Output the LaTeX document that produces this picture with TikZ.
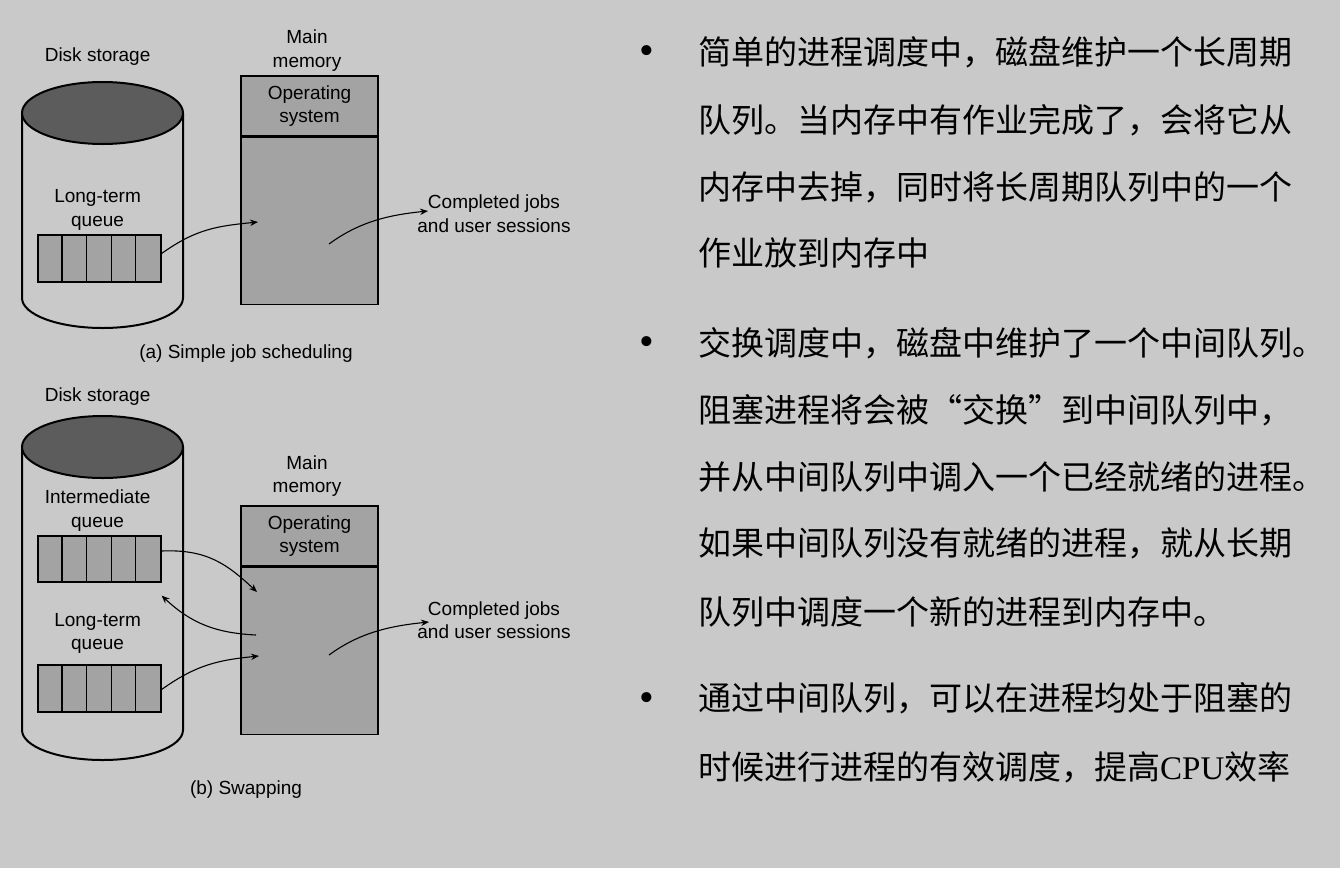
\documentclass[tikz,border=0pt]{standalone}
\usepackage{fontspec}
\setmainfont{Liberation Sans}
\newfontfamily\cjkfont{Noto Sans CJK SC}
\newfontfamily\timesfont{Liberation Serif}
\usetikzlibrary{positioning,arrows.meta}
\definecolor{slidebg}{RGB}{201,201,201}
\definecolor{boxgray}{RGB}{163,163,163}
\definecolor{lidgray}{RGB}{92,92,92}

\begin{document}
\begin{tikzpicture}[x=1pt,y=-1pt,>={Stealth[length=8pt,width=6.5pt]},
    lbl/.style={align=center,inner sep=0pt,font=\fontsize{19}{23.5}\selectfont},
    membox/.style={draw,fill=boxgray,line width=1.2pt,minimum width=137pt,inner sep=0pt},
    qbox/.style={draw,fill=boxgray,line width=1.2pt,minimum width=123pt,minimum height=47pt,inner sep=0pt},
    disk/.style={line width=2pt,fill=slidebg},
    flow/.style={->,line width=1.1pt},
    cjkline/.style={anchor=west,inner sep=0pt,font=\cjkfont\fontsize{33}{33}\selectfont},
    bulletmark/.style={inner sep=0pt,font=\timesfont\fontsize{42}{42}\selectfont}]

    % the slide
    \fill[slidebg] (0,0) rectangle (1340,868);
    \useasboundingbox (0,0) rectangle (1340,868);

    % draw the two disks
    \foreach \ytop/\ybot in {113/298,447/730} {
        \draw[disk] (22,\ytop) -- (22,\ybot)
            arc[start angle=180,end angle=360,x radius=80.5pt,y radius=30pt] -- (183,\ytop);
        \draw[disk,fill=lidgray] (102.5,\ytop) ellipse[x radius=80.5pt,y radius=31pt];
    }

    % (a) simple job scheduling
    \node[lbl] (diska) at (97.6,57) {Disk storage};
    \node[lbl] (ltqa) at (97.6,210) {Long-term\\queue};
    \node[qbox] (lqa) at (99.5,258.5) {};
    \node[lbl] (mema) at (307,50.5) {Main\\memory};
    \node[membox,minimum height=60pt,align=center,font=\fontsize{19}{23.5}\selectfont] (osa) at (309.5,106) {Operating\\system};
    \node[membox,minimum height=167pt,below=0pt of osa] (usera) {};
    \node[lbl] (donea) at (494,213.5) {Completed jobs\\and user sessions};
    \node[lbl] (capa) at (246,354) {(a) Simple job scheduling};
    \coordinate (a in) at (258,222);
    \coordinate (a out) at (329,244);
    \coordinate (a done) at (428,211);

    % (b) swapping
    \node[lbl] (diskb) at (97.6,397) {Disk storage};
    \node[lbl] (itqb) at (97.6,510.5) {Intermediate\\queue};
    \node[qbox,minimum height=46pt] (iqb) at (99.5,559) {};
    \node[lbl] (ltqb) at (97.6,633.5) {Long-term\\queue};
    \node[qbox] (lqb) at (99.5,688.5) {};
    \node[lbl] (memb) at (307,476) {Main\\memory};
    \node[membox,minimum height=60pt,align=center,font=\fontsize{19}{23.5}\selectfont] (osb) at (309.5,536) {Operating\\system};
    \node[membox,minimum height=167pt,below=0pt of osb] (userb) {};
    \node[lbl] (doneb) at (494,620) {Completed jobs\\and user sessions};
    \node[lbl] (capb) at (246,790) {(b) Swapping};
    \coordinate (b in1) at (257,592);
    \coordinate (b out1) at (256,635);
    \coordinate (b in2) at (259,656);
    \coordinate (b out2) at (329,655);
    \coordinate (b done) at (429,622);

    % cells of the queues
    \foreach \q in {lqa,iqb,lqb}
        \foreach \k in {1,...,4}
            \draw[line width=1.2pt] ([xshift=\k*24.6pt]\q.north west) -- ([xshift=\k*24.6pt]\q.south west);

    % the arrows
    \draw[flow] ([yshift=5pt]lqa.east) .. controls +(35,-25) and +(-40,4) .. (a in);
    \draw[flow] (a out) .. controls +(30,-22) and +(-40,4) .. (a done);
    \draw[flow] ([yshift=8pt]iqb.east) .. controls +(45,-2) and +(-30,-28) .. (b in1);
    \draw[flow] (b out1) .. controls +(-40,-2) and +(30,28) .. ([yshift=-13pt]iqb.south east);
    \draw[flow] ([yshift=-1pt]lqb.east) .. controls +(35,-25) and +(-40,4) .. (b in2);
    \draw[flow] (b out2) .. controls +(30,-22) and +(-40,4) .. (b done);

    % the bullets
    \foreach \y [count=\n] in {55,346,702}
        \node[bulletmark] (dot\n) at (646.5,\y) {•};

    % the text lines
    \foreach \y/\txt [count=\n] in {
        52/{简单的进程调度中，磁盘维护一个长周期},
        120/{队列。当内存中有作业完成了，会将它从},
        187/{内存中去掉，同时将长周期队列中的一个},
        253/{作业放到内存中},
        343/{交换调度中，磁盘中维护了一个中间队列。},
        410/{阻塞进程将会被“交换”到中间队列中，},
        477/{并从中间队列中调入一个已经就绪的进程。},
        543/{如果中间队列没有就绪的进程，就从长期},
        612/{队列中调度一个新的进程到内存中。},
        698/{通过中间队列，可以在进程均处于阻塞的},
        767/{时候进行进程的有效调度，提高{\timesfont CPU}效率}}
        \node[cjkline] (line\n) at (698,\y) {\txt};
\end{tikzpicture}
\end{document}
